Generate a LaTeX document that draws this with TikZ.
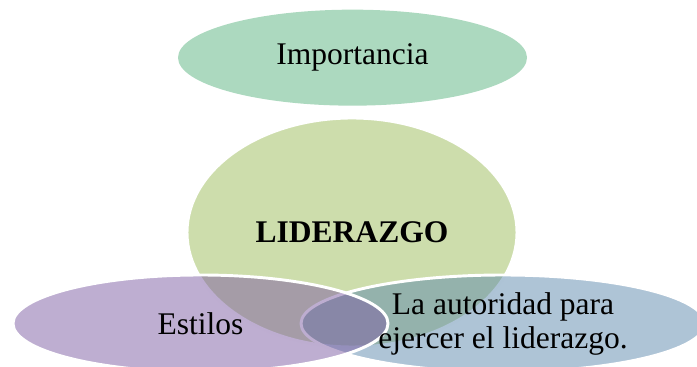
\documentclass[tikz,border=0pt]{standalone}
\usepackage{fontspec}
\setmainfont{Liberation Serif}
\usetikzlibrary{shapes.geometric}
\definecolor{topgreen}{RGB}{172,217,191}
\definecolor{leadgreen}{RGB}{155,187,89}
\definecolor{stylepurple}{RGB}{125,93,163}
\definecolor{authblue}{RGB}{93,137,173}

\begin{document}
\begin{tikzpicture}[
    blob/.style={ellipse, inner sep=0pt, outer sep=0pt, draw=white, line width=2.5pt, fill opacity=0.5, text opacity=1},
    lbl/.style={font=\fontsize{26.9}{29}\selectfont, align=center, text=black}
]
    \useasboundingbox (0,0) rectangle (20.91,11.01);
    \node[ellipse, inner sep=0pt, fill=topgreen, minimum width=10.47cm, minimum height=2.88cm, lbl] (importancia) at (10.575,9.28) {Importancia};
    \node[blob, fill=leadgreen, minimum width=9.9cm, minimum height=6.87cm, lbl] (liderazgo) at (10.56,4.035) {\textbf{LIDERAZGO}};
    \node[blob, fill=authblue, minimum width=12.12cm, minimum height=2.91cm] (autoridad) at (15.09,1.305) {};
    \node[blob, fill=stylepurple, minimum width=11.25cm, minimum height=2.91cm] (estilos) at (6.015,1.305) {};
    % texts on top of the overlaps
    \node[lbl] (estilos-txt) at (estilos) {Estilos};
    \node[lbl] (autoridad-txt) at (autoridad) {La autoridad para\\ejercer el liderazgo.};
\end{tikzpicture}
\end{document}
